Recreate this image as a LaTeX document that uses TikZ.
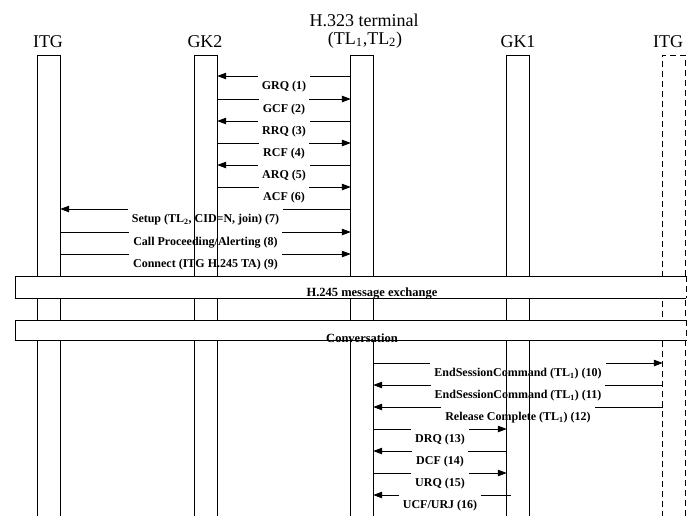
\documentclass[tikz,border=0pt]{standalone}
\usepackage{fontspec}
\setmainfont{Liberation Serif}
\usetikzlibrary{arrows.meta,calc}
\pgfdeclarelayer{arrowlayer}
\pgfdeclarelayer{labellayer}
\pgfdeclarelayer{boxlayer}
\pgfsetlayers{arrowlayer,labellayer,main,boxlayer}
\begin{document}
\begin{tikzpicture}[x=1pt,y=-1pt,
  head/.style={font=\fontsize{18}{20}\selectfont, inner sep=0pt, anchor=base},
  barnode/.style={draw=none, minimum width=22pt, minimum height=462pt, anchor=north, inner sep=0pt},
  barline/.style={line width=0.8pt},
  dbarline/.style={line width=0.8pt, dash pattern=on 6pt off 4pt},
  msg/.style={line width=0.8pt, -{Triangle[length=9pt,width=6.5pt]}},
  lbl/.style={fill=white, anchor=north, yshift=1.5pt, inner ysep=0pt, inner xsep=4pt,
              text height=15pt, text depth=2pt, font=\bfseries\fontsize{12}{13}\selectfont},
  boxtxt/.style={inner sep=0pt, font=\bfseries\fontsize{12.5}{14}\selectfont},
  boxline/.style={line width=0.8pt}]
\useasboundingbox (0,0) rectangle (688,515);

% headers
\node[head] (hITG) at (48,47) {ITG};
\node[head] (hGK2) at (205,47) {GK2};
\node[head] (hH1) at (364,26) {H.323 terminal};
\node[head] (hH2) at (365,44) {(TL\textsubscript{1},TL\textsubscript{2})};
\node[head] (hGK1) at (518,47) {GK1};
\node[head] (hITG2) at (668,47) {ITG};

% lifeline anchors
\node[barnode] (I) at (49,55) {};
\node[barnode] (G2) at (206,55) {};
\node[barnode] (H) at (362,55) {};
\node[barnode] (G1) at (518,55) {};
\node[barnode] (I2) at (674,55) {};

% message levels
\coordinate (m1) at (0,76);
\coordinate (m2) at (0,99);
\coordinate (m3) at (0,121);
\coordinate (m4) at (0,143);
\coordinate (m5) at (0,165);
\coordinate (m6) at (0,187);
\coordinate (m7) at (0,209);
\coordinate (m8) at (0,232);
\coordinate (m9) at (0,254);
\coordinate (m10) at (0,363);
\coordinate (m11) at (0,385);
\coordinate (m12) at (0,407);
\coordinate (m13) at (0,429);
\coordinate (m14) at (0,451);
\coordinate (m15) at (0,473);
\coordinate (m16) at (0,495);

\begin{pgfonlayer}{arrowlayer}
\draw[msg] (H.west |- m1) -- (G2.east |- m1);
\draw[msg] (G2.east |- m2) -- (H.west |- m2);
\draw[msg] (H.west |- m3) -- (G2.east |- m3);
\draw[msg] (G2.east |- m4) -- (H.west |- m4);
\draw[msg] (H.west |- m5) -- (G2.east |- m5);
\draw[msg] (G2.east |- m6) -- (H.west |- m6);
\draw[msg] (H.west |- m7) -- (I.east |- m7);
\draw[msg] (I.east |- m8) -- (H.west |- m8);
\draw[msg] (I.east |- m9) -- (H.west |- m9);
\draw[msg] (H.east |- m10) -- (I2.west |- m10);
\draw[msg] (I2.west |- m11) -- (H.east |- m11);
\draw[msg] (I2.west |- m12) -- (H.east |- m12);
\draw[msg] (H.east |- m13) -- (G1.west |- m13);
\draw[msg] (G1.west |- m14) -- (H.east |- m14);
\draw[msg] (H.east |- m15) -- (G1.west |- m15);
\draw[msg] ([xshift=4pt]G1.west |- m16) -- (H.east |- m16);
\end{pgfonlayer}

\begin{pgfonlayer}{labellayer}
\node[lbl] (l1) at ($(H.west |- m1)!0.5!(G2.east |- m1)$) {GRQ (1)};
\node[lbl] (l2) at ($(H.west |- m2)!0.5!(G2.east |- m2)$) {GCF (2)};
\node[lbl] (l3) at ($(H.west |- m3)!0.5!(G2.east |- m3)$) {RRQ (3)};
\node[lbl] (l4) at ($(H.west |- m4)!0.5!(G2.east |- m4)$) {RCF (4)};
\node[lbl] (l5) at ($(H.west |- m5)!0.5!(G2.east |- m5)$) {ARQ (5)};
\node[lbl] (l6) at ($(H.west |- m6)!0.5!(G2.east |- m6)$) {ACF (6)};
\node[lbl] (l7) at ($(H.west |- m7)!0.5!(I.east |- m7)$) {Setup (TL\textsubscript{2}, CID=N, join) (7)};
\node[lbl] (l8) at ($(H.west |- m8)!0.5!(I.east |- m8)$) {Call Proceeding/Alerting (8)};
\node[lbl] (l9) at ($(H.west |- m9)!0.5!(I.east |- m9)$) {Connect (ITG H.245 TA) (9)};
\node[lbl] (l10) at ($(H.east |- m10)!0.5!(I2.west |- m10)$) {EndSessionCommand (TL\textsubscript{1}) (10)};
\node[lbl] (l11) at ($(H.east |- m11)!0.5!(I2.west |- m11)$) {EndSessionCommand (TL\textsubscript{1}) (11)};
\node[lbl] (l12) at ($(H.east |- m12)!0.5!(I2.west |- m12)$) {Release Complete (TL\textsubscript{1}) (12)};
\node[lbl] (l13) at ($(H.east |- m13)!0.5!(G1.west |- m13)$) {DRQ (13)};
\node[lbl] (l14) at ($(H.east |- m14)!0.5!(G1.west |- m14)$) {DCF (14)};
\node[lbl] (l15) at ($(H.east |- m15)!0.5!(G1.west |- m15)$) {URQ (15)};
\node[lbl] (l16) at ($(H.east |- m16)!0.5!(G1.west |- m16)$) {UCF/URJ (16)};
\end{pgfonlayer}

% lifelines
\draw[barline] (I.south west) |- (I.north east) -- (I.south east);
\draw[barline] (G2.south west) |- (G2.north east) -- (G2.south east);
\draw[barline] (H.south west) |- (H.north east) -- (H.south east);
\draw[barline] (G1.south west) |- (G1.north east) -- (G1.south east);
\draw[dbarline] (I2.south west) |- (I2.north east) -- (I2.south east);

% spanning boxes
\begin{pgfonlayer}{boxlayer}
\node[fill=white, draw=none, inner sep=0pt, minimum width=670pt, minimum height=21.5pt, anchor=north west] (bx1) at (15.5,276) {};
\draw[boxline] (bx1.north east) -- (bx1.north west) -- (bx1.south west) -- (bx1.south east);
\draw[dbarline] (bx1.north east) -- (bx1.south east);
\node[boxtxt] (t1) at (372,294) {H.245 message exchange};
\node[fill=white, draw=none, inner sep=0pt, minimum width=670pt, minimum height=20pt, anchor=north west] (bx2) at (15.5,320) {};
\draw[boxline] (bx2.north east) -- (bx2.north west) -- (bx2.south west) -- (bx2.south east);
\draw[dbarline] (bx2.north east) -- (bx2.south east);
\node[boxtxt] (t2) at (362,338) {Conversation};
\end{pgfonlayer}
\end{tikzpicture}
\end{document}
